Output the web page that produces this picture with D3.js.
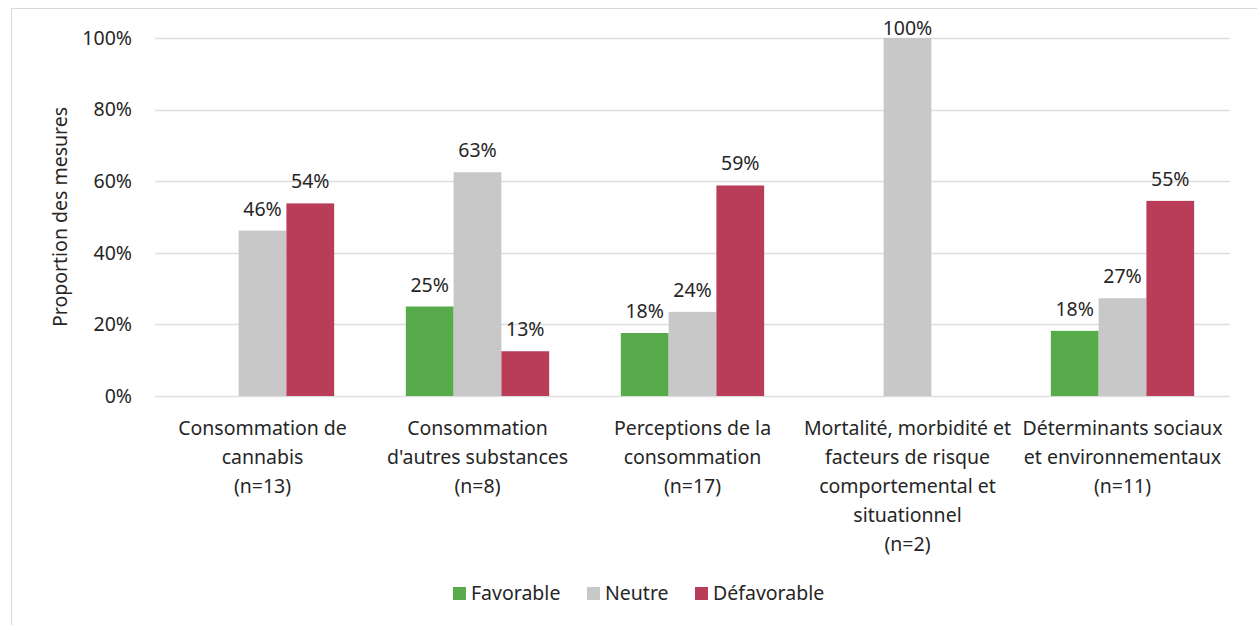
<!DOCTYPE html>
<html>
<head>
<meta charset="utf-8">
<script src="https://cdn.jsdelivr.net/npm/d3@7"></script>
<style>
body { margin: 0; background: #fff; }
text { font-family: "Noto Sans", "Open Sans", sans-serif; fill: #262626; }
</style>
</head>
<body>
<div id="viz"></div>
<script>
// data
var categories = ["cannabis", "autres", "perceptions", "mortalite", "determinants"];
var categoryLabels = [
	["Consommation de", "cannabis", "(n=13)"],
	["Consommation", "d'autres substances", "(n=8)"],
	["Perceptions de la", "consommation", "(n=17)"],
	["Mortalité, morbidité et", "facteurs de risque", "comportemental et", "situationnel", "(n=2)"],
	["Déterminants sociaux", "et environnementaux", "(n=11)"]
];
var seriesNames = ["Favorable", "Neutre", "Défavorable"];
var favorable = [0, 25, 17.6, 0, 18.2];
var neutre = [46.2, 62.5, 23.5, 100, 27.3];
var defavorable = [53.8, 12.5, 58.8, 0, 54.5];
var yTicks = [0, 20, 40, 60, 80, 100];
var colors = ["#57ab4b", "#c8c8c8", "#b93d58"];

var W = 1257, H = 625;
var mLeft = 155, mRight = 1230, mTop = 38, mBottom = 396;
var fs = "19.5px";

var svg = d3.select("#viz")
	.append("svg")
	.attr("width", W)
	.attr("height", H);

// chart border
svg.append("rect")
	.attr("x", 11.5).attr("y", 8.5)
	.attr("width", 1260).attr("height", 640)
	.attr("fill", "none")
	.attr("stroke", "#d9d9d9");

var x = d3.scaleBand().domain(categories).range([mLeft, mRight]);
var xs = d3.scaleBand().domain(seriesNames).range([0, x.bandwidth()]).paddingOuter(0.75);
var y = d3.scaleLinear().domain([0, 100]).range([mBottom, mTop]);

// gridlines
svg.append("g")
	.selectAll("line")
	.data(yTicks)
	.enter()
	.append("line")
	.attr("x1", mLeft).attr("x2", mRight)
	.attr("y1", function(d){ return Math.round(y(d)) + 0.5; })
	.attr("y2", function(d){ return Math.round(y(d)) + 0.5; })
	.attr("stroke", "#dedede")
	.attr("stroke-width", 1.3);

// y axis
var yAxis = svg.append("g")
	.attr("transform", "translate(" + mLeft + ",0)")
	.call(d3.axisLeft(y).tickValues(yTicks).tickSize(0).tickPadding(23).tickFormat(function(d){ return d + "%"; }));
yAxis.select(".domain").remove();
yAxis.selectAll("text")
	.style("font-family", "\"Noto Sans\", sans-serif")
	.style("font-size", fs)
	.attr("fill", "#262626");

svg.append("text")
	.attr("transform", "translate(67," + ((mTop + mBottom) / 2) + ") rotate(-90)")
	.attr("text-anchor", "middle")
	.style("font-size", fs)
	.text("Proportion des mesures");

// bars
var seriesData = [favorable, neutre, defavorable];
seriesData.forEach(function(vals, s){
	var g = svg.append("g");
	g.selectAll("rect")
		.data(vals)
		.enter()
		.append("rect")
		.attr("x", function(d, i){ return x(categories[i]) + xs(seriesNames[s]); })
		.attr("width", xs.bandwidth())
		.attr("y", function(d){ return y(d); })
		.attr("height", function(d){ return mBottom - y(d); })
		.attr("fill", colors[s]);
	g.selectAll("text")
		.data(vals.map(function(d, i){ return {v: d, i: i}; }).filter(function(d){ return d.v > 0; }))
		.enter()
		.append("text")
		.attr("x", function(d){ return x(categories[d.i]) + xs(seriesNames[s]) + xs.bandwidth() / 2; })
		.attr("y", function(d){ return Math.max(y(d.v) - 15, 35); })
		.attr("text-anchor", "middle")
		.style("font-size", fs)
		.text(function(d){ return Math.round(d.v) + "%"; });
});

// category labels
categories.forEach(function(c, i){
	var t = svg.append("text")
		.attr("text-anchor", "middle")
		.style("font-size", fs);
	t.selectAll("tspan")
		.data(categoryLabels[i])
		.enter()
		.append("tspan")
		.attr("x", x(c) + x.bandwidth() / 2)
		.attr("y", function(d, j){ return 435 + j * 29; })
		.text(function(d){ return d; });
});

// legend
var legendX = [453, 587, 695];
var lg = svg.append("g");
seriesNames.forEach(function(n, i){
	lg.append("rect")
		.attr("x", legendX[i]).attr("y", 587)
		.attr("width", 13).attr("height", 13)
		.attr("fill", colors[i]);
	lg.append("text")
		.attr("x", legendX[i] + 18).attr("y", 600)
		.style("font-size", fs)
		.text(n);
});
</script>
</body>
</html>
